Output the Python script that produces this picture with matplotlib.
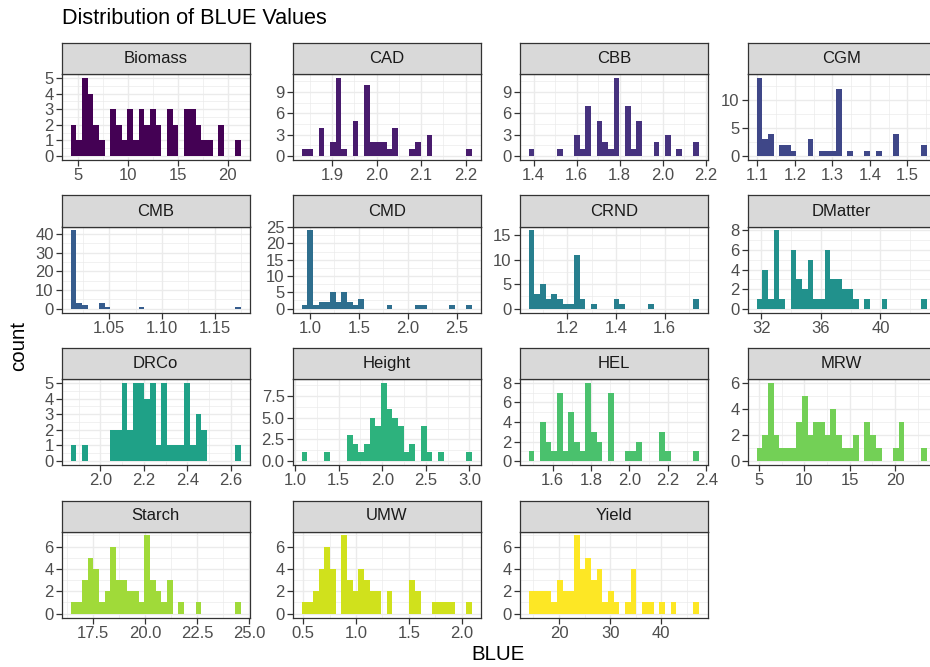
import numpy as np
import matplotlib
matplotlib.use('Agg')
import matplotlib.pyplot as plt

plt.rcParams['font.family'] = ['Liberation Sans', 'DejaVu Sans']

# Bin counts (30 bins per trait)
traits = ['Biomass', 'CAD', 'CBB', 'CGM', 'CMB', 'CMD', 'CRND', 'DMatter',
          'DRCo', 'Height', 'HEL', 'MRW', 'Starch', 'UMW', 'Yield']

biomass = [2, 1, 5, 4, 2, 1, 0, 3, 2, 1, 3, 1, 3, 2, 3, 2, 0, 3, 2, 0, 3, 3, 2, 1, 1, 0, 2, 0, 0, 1]
cad = [1, 1, 0, 4, 0, 2, 11, 1, 0, 5, 0, 10, 2, 2, 2, 1, 4, 0, 0, 1, 2, 0, 3, 0, 0, 0, 0, 0, 0, 1]
cbb = [1, 0, 0, 0, 0, 1, 0, 0, 3, 1, 7, 0, 5, 2, 1, 11, 0, 7, 1, 5, 0, 0, 2, 0, 3, 0, 1, 0, 0, 2]
cgm = [14, 3, 4, 0, 2, 2, 1, 0, 0, 3, 0, 1, 1, 1, 12, 0, 1, 0, 0, 1, 0, 1, 0, 0, 4, 0, 0, 0, 0, 2]
cmb = [42, 3, 2, 0, 0, 3, 1, 0, 0, 0, 0, 0, 1, 0, 0, 0, 0, 0, 0, 0, 0, 0, 0, 0, 0, 0, 0, 0, 0, 1]
cmd = [1, 24, 1, 2, 2, 5, 2, 5, 2, 1, 3, 0, 0, 0, 0, 1, 0, 0, 0, 0, 1, 1, 0, 0, 0, 0, 1, 0, 0, 1]
crnd = [16, 3, 5, 2, 3, 2, 1, 1, 11, 2, 0, 1, 0, 0, 0, 2, 1, 0, 0, 0, 0, 1, 0, 0, 0, 0, 0, 0, 0, 2]
dmatter = [1, 4, 1, 8, 1, 0, 6, 3, 2, 5, 1, 1, 6, 3, 3, 2, 2, 1, 0, 1, 0, 0, 1, 0, 0, 0, 0, 0, 0, 1]
drco = [1, 0, 1, 0, 0, 0, 0, 2, 2, 5, 2, 5, 5, 4, 5, 1, 5, 1, 1, 1, 5, 1, 3, 2, 0, 0, 0, 0, 0, 1]
height = [1, 0, 0, 0, 1, 0, 0, 0, 3, 2, 1, 2, 5, 4, 9, 6, 5, 4, 1, 2, 0, 4, 1, 0, 1, 0, 0, 0, 0, 1]
hel = [1, 0, 4, 2, 1, 7, 1, 5, 2, 1, 8, 3, 2, 0, 7, 0, 0, 1, 1, 2, 0, 0, 0, 3, 1, 0, 0, 0, 0, 1]
mrw = [1, 2, 6, 2, 1, 1, 1, 3, 5, 2, 3, 3, 2, 4, 2, 1, 1, 2, 0, 3, 2, 1, 0, 0, 1, 3, 0, 0, 0, 1]
starch = [1, 1, 3, 5, 4, 1, 2, 6, 3, 3, 2, 2, 1, 7, 3, 2, 1, 3, 0, 1, 0, 0, 1, 0, 0, 0, 0, 0, 0, 1]
umw = [1, 1, 2, 4, 6, 4, 0, 7, 3, 2, 4, 3, 2, 2, 0, 2, 0, 0, 0, 3, 2, 0, 0, 1, 1, 1, 1, 0, 0, 1]
yld = [2, 2, 2, 2, 1, 3, 2, 2, 7, 4, 5, 3, 4, 1, 2, 1, 0, 1, 4, 0, 1, 1, 0, 1, 0, 1, 0, 0, 0, 1]

counts = [biomass, cad, cbb, cgm, cmb, cmd, crnd, dmatter,
          drco, height, hel, mrw, starch, umw, yld]

# centre of first and last bin for each trait
lows = [4.52, 1.838, 1.39, 1.105, 1.016, 0.944, 1.052, 31.86,
        1.876, 1.108, 1.489, 5.05, 16.55, 0.511, 14.6]
highs = [21.05, 2.208, 2.155, 1.5445, 1.172, 2.626, 1.73, 42.94,
         2.6325, 2.996, 2.347, 23.2, 24.48, 2.072, 46.83]

x_ticks = [[5, 10, 15, 20], [1.9, 2.0, 2.1, 2.2], [1.4, 1.6, 1.8, 2.0, 2.2],
           [1.1, 1.2, 1.3, 1.4, 1.5], [1.05, 1.10, 1.15], [1.0, 1.5, 2.0, 2.5],
           [1.2, 1.4, 1.6], [32, 36, 40], [2.0, 2.2, 2.4, 2.6],
           [1.0, 1.5, 2.0, 2.5, 3.0], [1.6, 1.8, 2.0, 2.2, 2.4], [5, 10, 15, 20],
           [17.5, 20.0, 22.5, 25.0], [0.5, 1.0, 1.5, 2.0], [20, 30, 40]]
y_ticks = [[0, 1, 2, 3, 4, 5], [0, 3, 6, 9], [0, 3, 6, 9], [0, 5, 10],
           [0, 10, 20, 30, 40], [0, 5, 10, 15, 20, 25], [0, 5, 10, 15],
           [0, 2, 4, 6, 8], [0, 1, 2, 3, 4, 5], [0, 2.5, 5.0, 7.5],
           [0, 2, 4, 6, 8], [0, 2, 4, 6], [0, 2, 4, 6], [0, 2, 4, 6], [0, 2, 4, 6]]

W, H = 930, 667
fig = plt.figure(figsize=(W / 100, H / 100), dpi=100)
colors = plt.cm.viridis(np.linspace(0, 1, len(traits)))

col_left = [62, 293, 520, 748]
pw, ph, sh = 187.5, 86, 31
row_top = [74 + 152.5 * i for i in range(4)]


def fmt(ticks):
    for d in range(4):
        if all(abs(round(t, d) - t) < 1e-9 for t in ticks):
            return ['%.*f' % (d, t) for t in ticks]
    return [str(t) for t in ticks]


for i, name in enumerate(traits):
    r, c = divmod(i, 4)
    x0, y0 = col_left[c], row_top[r]
    ax = fig.add_axes([x0 / W, 1 - (y0 + ph) / H, pw / W, ph / H])
    sax = fig.add_axes([x0 / W, 1 - y0 / H, pw / W, sh / H])

    cnt = np.array(counts[i])
    w = (highs[i] - lows[i]) / (len(cnt) - 1)
    centers = lows[i] + w * np.arange(len(cnt))
    ax.bar(centers, cnt, width=w, color=colors[i], linewidth=0, zorder=3)

    xl, xh = lows[i] - w / 2, highs[i] + w / 2
    ex = 0.05 * (xh - xl)
    ym = cnt.max()

    xt, yt = x_ticks[i], y_ticks[i]
    ax.set_xticks(xt)
    ax.set_xticklabels(fmt(xt))
    ax.set_yticks(yt)
    ax.set_yticklabels(fmt(yt))
    # minor grid at midpoints like ggplot
    dx = xt[1] - xt[0]
    dy = yt[1] - yt[0]
    xm = [t + dx / 2 for t in [xt[0] - dx] + list(xt)]
    ym_ = [t + dy / 2 for t in [yt[0] - dy] + list(yt)]
    ax.set_xticks(xm, minor=True)
    ax.set_yticks(ym_, minor=True)
    ax.set_xlim(xl - ex, xh + ex)
    ax.set_ylim(-0.05 * ym, ym * 1.05)

    ax.grid(which='major', color='#EBEBEB', linewidth=1.0, zorder=0)
    ax.grid(which='minor', color='#EBEBEB', linewidth=0.5, zorder=0)
    ax.set_axisbelow(True)
    ax.tick_params(which='minor', length=0)
    ax.tick_params(which='major', length=4, width=0.9, color='#333333',
                   labelcolor='#4D4D4D', labelsize=12, pad=2)
    for s in ax.spines.values():
        s.set_color('#333333')
        s.set_linewidth(0.9)
    ax.set_facecolor('white')

    sax.set_facecolor('#D9D9D9')
    sax.set_xticks([])
    sax.set_yticks([])
    for s in sax.spines.values():
        s.set_color('#333333')
        s.set_linewidth(0.9)
    sax.text(0.5, 0.5, name, ha='center', va='center', fontsize=12,
             color='#1A1A1A', transform=sax.transAxes)

fig.text(62 / W, 1 - 18 / H, 'Distribution of BLUE Values', fontsize=15.6,
         ha='left', va='center', color='black')
fig.text(18.5 / W, 1 - 346 / H, 'count', fontsize=14.7, rotation=90,
         ha='center', va='center', color='black')
fig.text(498 / W, 1 - 655 / H, 'BLUE', fontsize=14.7, ha='center',
         va='center', color='black')

fig.savefig('out.png', dpi=100)
